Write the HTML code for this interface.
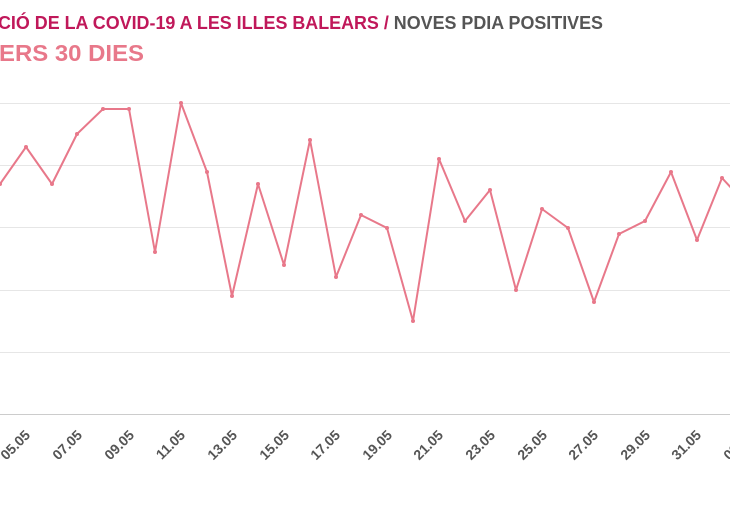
<!DOCTYPE html>
<html><head><meta charset="utf-8"><style>
body{margin:0;background:#fff;width:730px;height:500px;overflow:hidden;font-family:"Liberation Sans",sans-serif}
</style></head><body>
<svg width="730" height="500" xmlns="http://www.w3.org/2000/svg" font-family="Liberation Sans, sans-serif">
<text x="-2" y="29" font-size="18" font-weight="bold" textLength="605" lengthAdjust="spacingAndGlyphs"><tspan fill="#c0185a">CIÓ DE LA COVID-19 A LES ILLES BALEARS / </tspan><tspan fill="#555">NOVES PDIA POSITIVES</tspan></text>
<text x="-1" y="61" font-size="23" font-weight="bold" fill="#e8788a" textLength="145" lengthAdjust="spacingAndGlyphs">ERS 30 DIES</text>
<g stroke="#e6e6e6" stroke-width="1">
<line x1="0" x2="730" y1="103.5" y2="103.5"/><line x1="0" x2="730" y1="165.5" y2="165.5"/>
<line x1="0" x2="730" y1="227.5" y2="227.5"/><line x1="0" x2="730" y1="290.5" y2="290.5"/>
<line x1="0" x2="730" y1="352.5" y2="352.5"/></g>
<line x1="0" x2="730" y1="414.5" y2="414.5" stroke="#ccc"/>
<polyline fill="none" stroke="#e8788a" stroke-width="2" stroke-linejoin="round" points="0,184 26,147 52,184 77,134 103,109 129,109 155,252 181,103 207,172 232,296 258,184 284,265 310,140 336,277 361,215 387,228 413,321 439,159 465,221 490,190 516,290 542,209 568,228 594,302 619,234 645,221 671,172 697,240 722,178 735,192"/>
<g fill="#e8788a">
<circle cx="0" cy="184" r="2"/><circle cx="26" cy="147" r="2"/><circle cx="52" cy="184" r="2"/><circle cx="77" cy="134" r="2"/><circle cx="103" cy="109" r="2"/><circle cx="129" cy="109" r="2"/><circle cx="155" cy="252" r="2"/><circle cx="181" cy="103" r="2"/><circle cx="207" cy="172" r="2"/><circle cx="232" cy="296" r="2"/><circle cx="258" cy="184" r="2"/><circle cx="284" cy="265" r="2"/><circle cx="310" cy="140" r="2"/><circle cx="336" cy="277" r="2"/><circle cx="361" cy="215" r="2"/><circle cx="387" cy="228" r="2"/><circle cx="413" cy="321" r="2"/><circle cx="439" cy="159" r="2"/><circle cx="465" cy="221" r="2"/><circle cx="490" cy="190" r="2"/><circle cx="516" cy="290" r="2"/><circle cx="542" cy="209" r="2"/><circle cx="568" cy="228" r="2"/><circle cx="594" cy="302" r="2"/><circle cx="619" cy="234" r="2"/><circle cx="645" cy="221" r="2"/><circle cx="671" cy="172" r="2"/><circle cx="697" cy="240" r="2"/><circle cx="722" cy="178" r="2"/>
</g>
<g fill="#555" font-size="14" font-weight="bold" text-anchor="end">
<text transform="translate(31,436) rotate(-45)">05.05</text>
<text transform="translate(83,436) rotate(-45)">07.05</text>
<text transform="translate(135,436) rotate(-45)">09.05</text>
<text transform="translate(186,436) rotate(-45)">11.05</text>
<text transform="translate(238,436) rotate(-45)">13.05</text>
<text transform="translate(290,436) rotate(-45)">15.05</text>
<text transform="translate(341,436) rotate(-45)">17.05</text>
<text transform="translate(393,436) rotate(-45)">19.05</text>
<text transform="translate(444,436) rotate(-45)">21.05</text>
<text transform="translate(496,436) rotate(-45)">23.05</text>
<text transform="translate(548,436) rotate(-45)">25.05</text>
<text transform="translate(599,436) rotate(-45)">27.05</text>
<text transform="translate(651,436) rotate(-45)">29.05</text>
<text transform="translate(702,436) rotate(-45)">31.05</text>
<text transform="translate(754,436) rotate(-45)">02.06</text>
</g>
</svg>
</body></html>
